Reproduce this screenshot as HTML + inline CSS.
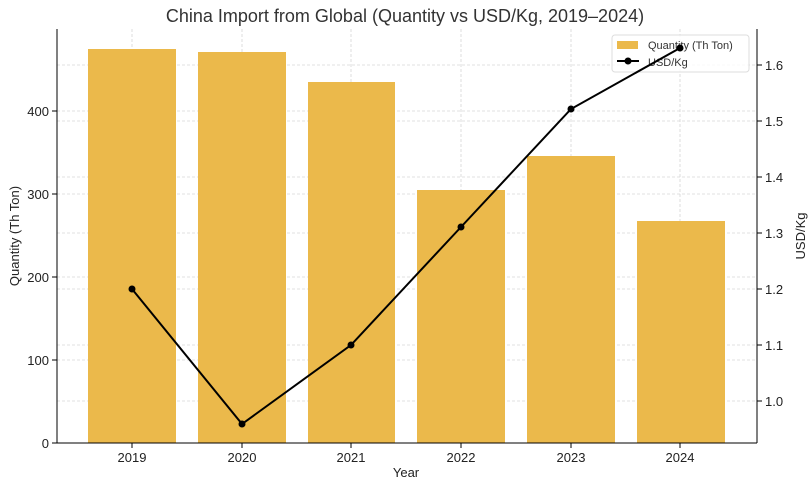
<!DOCTYPE html>
<html><head><style>body{margin:0;background:#fff;overflow:hidden}</style></head><body>
<svg width="808" height="487" xmlns="http://www.w3.org/2000/svg" font-family="Liberation Sans, DejaVu Sans, sans-serif">
<rect width="808" height="487" fill="#fff"/>
<g stroke="#d6d6d6" stroke-width="0.8" stroke-dasharray="3,2">
<line x1="132" y1="29" x2="132" y2="443"/><line x1="242" y1="29" x2="242" y2="443"/><line x1="351" y1="29" x2="351" y2="443"/><line x1="461" y1="29" x2="461" y2="443"/><line x1="571" y1="29" x2="571" y2="443"/><line x1="680" y1="29" x2="680" y2="443"/>
<line x1="57" y1="360" x2="757" y2="360"/><line x1="57" y1="277" x2="757" y2="277"/><line x1="57" y1="194" x2="757" y2="194"/><line x1="57" y1="111" x2="757" y2="111"/>
<line x1="57" y1="401" x2="757" y2="401"/><line x1="57" y1="345" x2="757" y2="345"/><line x1="57" y1="289" x2="757" y2="289"/><line x1="57" y1="233" x2="757" y2="233"/><line x1="57" y1="177" x2="757" y2="177"/><line x1="57" y1="121" x2="757" y2="121"/><line x1="57" y1="65" x2="757" y2="65"/>
</g>
<g fill="#ebb94b">
<rect x="88" y="49" width="88" height="394"/><rect x="198" y="52" width="88" height="391"/><rect x="308" y="82" width="87" height="361"/><rect x="417" y="190" width="88" height="253"/><rect x="527" y="156" width="88" height="287"/><rect x="637" y="221" width="88" height="222"/>
</g>
<rect x="612" y="35" width="137" height="37" rx="3" fill="#fff" fill-opacity="0.8" stroke="#ddd"/>
<rect x="617" y="41" width="21" height="8" fill="#ebb94b"/>
<text x="648" y="49" font-size="11" fill="#333">Quantity (Th Ton)</text>
<line x1="617" y1="61" x2="639" y2="61" stroke="#000" stroke-width="2"/><circle cx="628" cy="61" r="3.5"/>
<text x="648" y="66" font-size="11" fill="#333">USD/Kg</text>
<polyline points="132,289 242,424 351,345 461,227 571,109 680,48" fill="none" stroke="#000" stroke-width="2"/>
<g fill="#000"><circle cx="132" cy="289" r="3.5"/><circle cx="242" cy="424" r="3.5"/><circle cx="351" cy="345" r="3.5"/><circle cx="461" cy="227" r="3.5"/><circle cx="571" cy="109" r="3.5"/><circle cx="680" cy="48" r="3.5"/></g>
<g stroke="#000" stroke-width="1" fill="none"><line x1="57" y1="29" x2="57" y2="443"/><line x1="757" y1="29" x2="757" y2="443"/><line x1="57" y1="443" x2="757" y2="443"/></g>
<g stroke="#000"><line x1="52" y1="443" x2="57" y2="443"/><line x1="52" y1="360" x2="57" y2="360"/><line x1="52" y1="277" x2="57" y2="277"/><line x1="52" y1="194" x2="57" y2="194"/><line x1="52" y1="111" x2="57" y2="111"/>
<line x1="757" y1="401" x2="762" y2="401"/><line x1="757" y1="345" x2="762" y2="345"/><line x1="757" y1="289" x2="762" y2="289"/><line x1="757" y1="233" x2="762" y2="233"/><line x1="757" y1="177" x2="762" y2="177"/><line x1="757" y1="121" x2="762" y2="121"/><line x1="757" y1="65" x2="762" y2="65"/>
<line x1="132" y1="443" x2="132" y2="448"/><line x1="242" y1="443" x2="242" y2="448"/><line x1="351" y1="443" x2="351" y2="448"/><line x1="461" y1="443" x2="461" y2="448"/><line x1="571" y1="443" x2="571" y2="448"/><line x1="680" y1="443" x2="680" y2="448"/></g>
<g font-size="13" fill="#222" text-anchor="end"><text x="49" y="448">0</text><text x="49" y="365">100</text><text x="49" y="282">200</text><text x="49" y="199">300</text><text x="49" y="116">400</text></g>
<g font-size="13" fill="#222"><text x="765" y="406">1.0</text><text x="765" y="350">1.1</text><text x="765" y="294">1.2</text><text x="765" y="238">1.3</text><text x="765" y="182">1.4</text><text x="765" y="126">1.5</text><text x="765" y="70">1.6</text></g>
<g font-size="13" fill="#222" text-anchor="middle"><text x="132" y="462">2019</text><text x="242" y="462">2020</text><text x="351" y="462">2021</text><text x="461" y="462">2022</text><text x="571" y="462">2023</text><text x="680" y="462">2024</text>
<text x="406" y="477">Year</text>
<text x="405" y="22" font-size="18" fill="#333">China Import from Global (Quantity vs USD/Kg, 2019–2024)</text>
<text transform="translate(19,236) rotate(-90)">Quantity (Th Ton)</text>
<text transform="translate(805,236) rotate(-90)">USD/Kg</text></g>
</svg>
</body></html>
